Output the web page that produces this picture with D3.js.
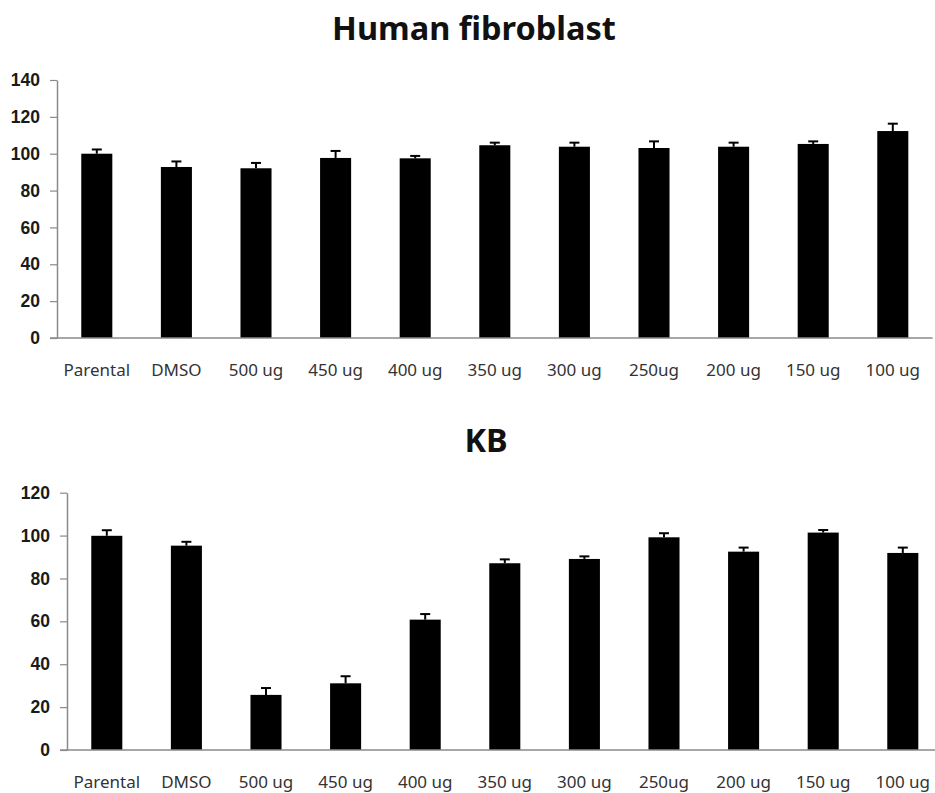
<!DOCTYPE html>
<html>
<head>
<meta charset="utf-8">
<script src="https://cdn.jsdelivr.net/npm/d3@7"></script>
<style>
  body { margin: 0; background: #fff; }
  .tick text { font-family: "Liberation Sans", Arial, sans-serif; }
</style>
</head>
<body>
<div id="chart"></div>
<script>
// categories shared by both panels
const categories = ["Parental", "DMSO", "500 ug", "450 ug", "400 ug", "350 ug",
  "300 ug", "250ug", "200 ug", "150 ug", "100 ug"];

// Human fibroblast: mean and upper error
const fibroValues = [100, 92.8, 92.1, 97.7, 97.5, 104.6, 103.8, 103.1, 103.8, 105.3, 112.3];
const fibroErrors = [2.3, 3.0, 2.9, 3.8, 1.3, 1.4, 2.2, 3.6, 2.2, 1.4, 4.0];
const fibroTicks = [0, 20, 40, 60, 80, 100, 120, 140];

// KB: mean and upper error
const kbValues = [99.9, 95.3, 25.7, 31.1, 60.8, 87.1, 89.1, 99.2, 92.5, 101.4, 91.9];
const kbErrors = [2.6, 1.8, 3.2, 3.3, 2.6, 1.8, 1.2, 1.9, 1.9, 1.2, 2.5];
const kbTicks = [0, 20, 40, 60, 80, 100, 120];

const width = 935, height = 793;
const svg = d3.select("#chart").append("svg")
  .attr("width", width)
  .attr("height", height);

/* draw one panel
 * x0: y axis position, yTop/yBottom: pixel range of the value axis
 */
const drawPanel = (opt) => {
  const x = d3.scaleBand()
    .domain(categories)
    .range([opt.x0, opt.x0 + 875.6])
    .paddingInner(0.61)
    .paddingOuter(0.305);
  const y = d3.scaleLinear()
    .domain([0, opt.max])
    .range([opt.yBottom, opt.yTop]);

  // title
  svg.append("text")
    .attr("x", opt.titleX)
    .attr("y", opt.titleY)
    .attr("text-anchor", "middle")
    .attr("font-family", "'Noto Sans', 'Open Sans', sans-serif")
    .attr("font-weight", "bold")
    .attr("font-size", "32.5px")
    .attr("fill", "#111")
    .text(opt.title);

  // y axis
  const yAxis = svg.append("g")
    .attr("transform", `translate(${opt.x0},0)`)
    .call(d3.axisLeft(y).tickValues(opt.ticks).tickSize(7).tickSizeOuter(0).tickPadding(10));
  yAxis.select(".domain").attr("stroke", "#8a8a8a").attr("stroke-width", 1.5);
  yAxis.selectAll(".tick line").attr("stroke", "#8a8a8a").attr("stroke-width", 1.2);
  yAxis.selectAll(".tick text")
    .attr("font-size", "17.5px")
    .attr("font-weight", "bold")
    .attr("fill", "#1a1a1a");

  // bars
  svg.append("g").selectAll("rect")
    .data(opt.values)
    .join("rect")
    .attr("x", (d, i) => x(categories[i]))
    .attr("y", d => y(d))
    .attr("width", x.bandwidth())
    .attr("height", d => y(0) - y(d))
    .attr("fill", "#000");

  // error bars (upper only)
  const err = svg.append("g").attr("stroke", "#000").attr("stroke-width", 2);
  opt.values.forEach((v, i) => {
    const cx = x(categories[i]) + x.bandwidth() / 2;
    err.append("line")
      .attr("x1", cx).attr("x2", cx)
      .attr("y1", y(v)).attr("y2", y(v + opt.errors[i]));
    err.append("line")
      .attr("x1", cx - 5).attr("x2", cx + 5)
      .attr("y1", y(v + opt.errors[i])).attr("y2", y(v + opt.errors[i]));
  });

  // x axis line
  svg.append("line")
    .attr("x1", opt.x0 - 7).attr("x2", opt.x0 + 875.6)
    .attr("y1", y(0)).attr("y2", y(0))
    .attr("stroke", "#8a8a8a")
    .attr("stroke-width", 1.5);

  // x labels
  svg.append("g").selectAll("text")
    .data(categories)
    .join("text")
    .attr("x", d => x(d) + x.bandwidth() / 2)
    .attr("y", opt.labelY)
    .attr("text-anchor", "middle")
    .attr("font-family", "'Noto Sans', 'Open Sans', sans-serif")
    .attr("font-size", "17px")
    .attr("fill", "#333")
    .text(d => d);
};

drawPanel({
  title: "Human fibroblast", titleX: 474, titleY: 40,
  values: fibroValues, errors: fibroErrors, ticks: fibroTicks, max: 140,
  x0: 57, yTop: 80, yBottom: 338, labelY: 376
});

drawPanel({
  title: "KB", titleX: 486, titleY: 452,
  values: kbValues, errors: kbErrors, ticks: kbTicks, max: 120,
  x0: 67, yTop: 492.7, yBottom: 750, labelY: 788
});
</script>
</body>
</html>
